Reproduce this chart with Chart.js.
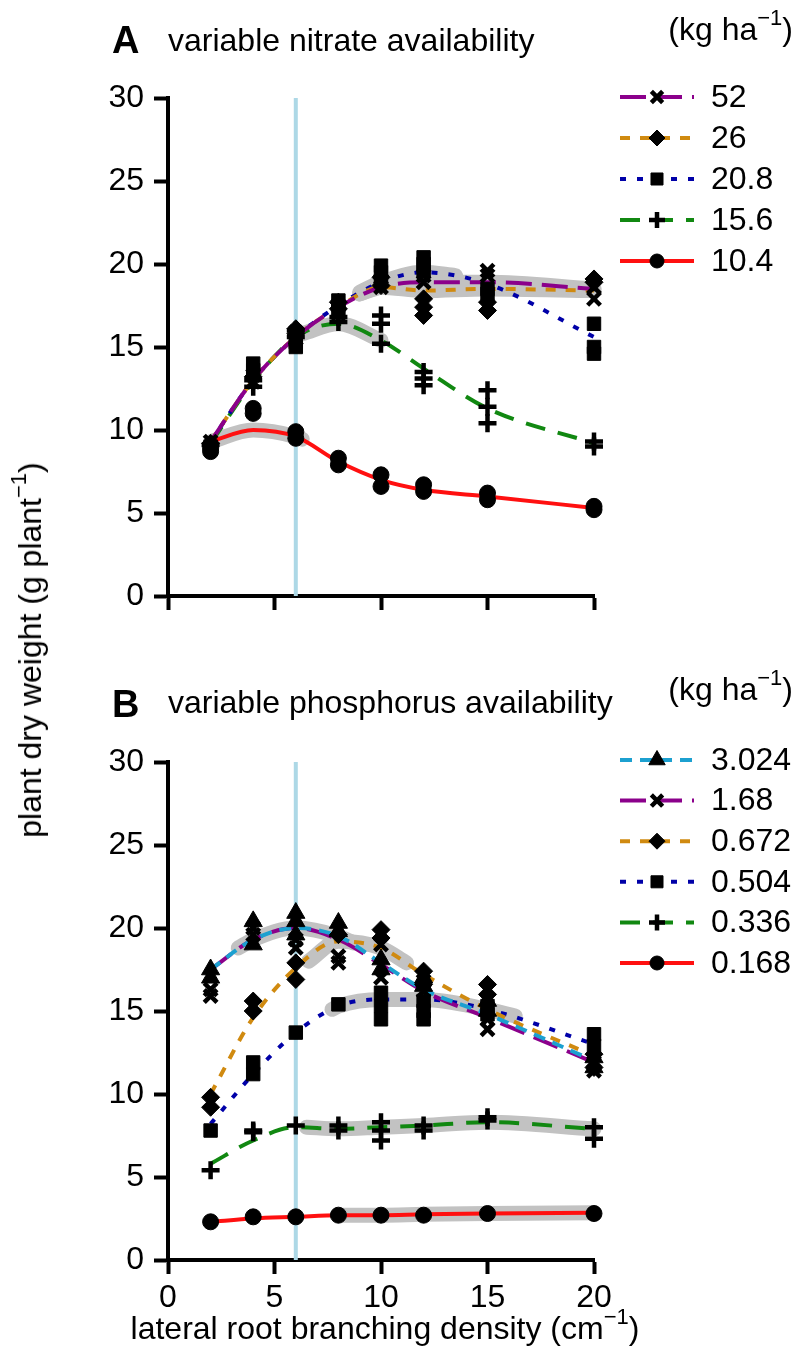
<!DOCTYPE html>
<html>
<head>
<meta charset="utf-8">
<script src="https://cdn.jsdelivr.net/npm/chart.js@4.4.0/dist/chart.umd.min.js"></script>
<style>
  body { margin: 0; background: #fff; width: 797px; height: 1349px; position: relative; overflow: hidden;
         font-family: "Liberation Sans", Arial, sans-serif; color: #000; }
  canvas { position: absolute; left: 0; }
  .t { position: absolute; font-size: 32px; line-height: 32px; white-space: nowrap; }
  .t sup { font-size: 22px; line-height: 0; position: relative; top: -2px; vertical-align: 13px; }
  .lbl { font-weight: bold; font-size: 38px; line-height: 38px; }
</style>
</head>
<body>
<canvas id="panelA" width="797" height="640" style="top:0"></canvas>
<canvas id="panelB" width="797" height="709" style="top:640px"></canvas>

<div class="t lbl" style="left:112px; top:21px">A</div>
<div class="t" style="left:168px; top:24px">variable nitrate availability</div>
<div class="t" style="right:4px; top:13px">(kg ha<sup>−1</sup>)</div>

<div class="t lbl" style="left:112px; top:685px">B</div>
<div class="t" style="left:168px; top:686px">variable phosphorus availability</div>
<div class="t" style="right:4px; top:673px">(kg ha<sup>−1</sup>)</div>

<div class="t" style="left:30px; top:650px; transform: translate(-50%,-50%) rotate(-90deg)">plant dry weight (g plant<sup>−1</sup>)</div>
<div class="t" style="left:385px; top:1312px; transform: translateX(-50%)">lateral root branching density (cm<sup>−1</sup>)</div>

<script>
// sampled branching densities (cm-1)
const xVals = [2, 4, 6, 8, 10, 12, 15, 20];
const refX = 6;   // light blue reference line

// ---- A: nitrate (kg ha-1) ----
const nitrateLabels = ['52', '26', '20.8', '15.6', '10.4'];
// fitted curves at xVals
const n52Fit  = [9.3, 13.0, 15.6, 17.4, 18.6, 18.9, 18.9, 18.5];
const n26Fit  = [9.3, 13.0, 15.6, 17.4, 18.6, 18.4, 18.5, 18.4];
const n208Fit = [9.3, 13.0, 15.6, 17.5, 18.9, 19.5, 18.8, 15.6];
const n156Fit = [9.2, 12.9, 15.6, 16.4, 15.4, 13.7, 11.3, 9.2];
const n104Fit = [9.3, 10.0, 9.6, 8.1, 7.0, 6.4, 6.0, 5.3];
// replicate simulations at each x
const n52Pts  = [[9.3], [12.9, 13.3], [15.5, 15.9], [17.0, 17.5], [19.0, 18.6], [19.3, 18.9], [19.6, 19.3], [18.6, 17.9]];
const n26Pts  = [[9.2], [13.2], [15.8, 16.1], [17.3, 17.7], [19.2, 18.7], [17.9, 17.4, 16.9], [17.7, 17.2], [19.1, 18.9]];
const n208Pts = [[9.0], [14.0, 13.6], [15.3, 15.0], [17.8, 17.2], [19.9, 19.5, 19.0], [20.4, 20.0, 19.6], [18.5, 18.2], [16.4, 15.0, 14.6]];
const n156Pts = [[9.1], [13.0, 12.6], [16.0, 15.6], [16.8, 16.5], [16.9, 16.4, 15.2], [13.5, 13.1, 12.7], [12.4, 11.4, 10.4], [9.3, 9.0]];
const n104Pts = [[8.7, 8.9], [11.0, 11.3], [9.5, 9.9], [7.9, 8.3], [6.6, 7.3], [6.3, 6.7], [5.8, 6.2], [5.2, 5.4]];
// grey optimum bands [x, y]
const n52Band  = [[9, 18.2], [10, 18.6], [12, 18.9], [15, 18.9], [20, 18.5]];
const n26Band  = [[9, 18.2], [10, 18.6], [12, 18.4], [15, 18.5], [20, 18.4]];
const n208Band = [[9, 18.3], [10, 18.9], [12, 19.5], [13.5, 19.3]];
const n156Band = [[6.3, 15.8], [8, 16.4], [10, 15.4]];
const n104Band = [[2, 9.3], [4, 10.0], [6, 9.6], [6.3, 9.45]];

// ---- B: phosphorus (kg ha-1) ----
const phosphLabels = ['3.024', '1.68', '0.672', '0.504', '0.336', '0.168'];
const p3024Fit = [17.5, 19.3, 20.0, 19.5, 17.9, 16.3, 14.8, 12.0];
const p168Fit  = [17.5, 19.3, 20.0, 19.3, 17.8, 16.2, 14.6, 11.9];
const p0672Fit = [10.0, 14.6, 17.6, 19.2, 18.8, 17.2, 15.1, 12.3];
const p0504Fit = [8.2, 11.2, 13.7, 15.3, 15.7, 15.7, 15.1, 13.0];
const p0336Fit = [5.8, 7.2, 8.0, 7.9, 8.0, 8.1, 8.3, 7.9];
const p0168Fit = [2.3, 2.5, 2.6, 2.7, 2.7, 2.75, 2.8, 2.85];
const p3024Pts = [[17.5, 17.0], [20.4, 19.0], [20.9, 20.4, 19.6], [20.3, 19.8], [18.1, 17.5], [17.0, 16.5], [15.6, 15.0], [12.2, 11.6]];
const p168Pts  = [[16.3, 15.9], [20.0, 19.6], [19.3, 18.8], [18.3, 17.9], [19.0, 17.0], [16.8, 16.2], [14.5, 13.9], [11.9, 11.4]];
const p0672Pts = [[9.8, 9.2], [15.6, 15.0], [17.9, 16.9], [19.6], [19.9, 19.4], [17.4, 16.6], [16.6, 16.0], [12.4, 11.6]];
const p0504Pts = [[7.8], [11.9, 11.2], [13.7], [15.4], [16.1, 15.3, 14.5], [15.6, 15.0, 14.5], [15.3, 14.8], [13.6, 12.9]];
const p0336Pts = [[5.4], [7.8, 7.7], [8.1], [8.1, 7.8], [8.3, 7.8, 7.2], [8.1, 7.8], [8.6, 8.4], [8.0, 7.3]];
const p0168Pts = [[2.3], [2.6], [2.6], [2.7], [2.7], [2.7], [2.8], [2.8]];
const p3024Band = [[3.3, 18.8], [4, 19.3], [6, 20.0], [8, 19.5], [8.7, 19.1]];
const p0672Band = [[6.6, 18.0], [8, 19.2], [10, 18.8], [11.2, 17.9]];
const p0504Band = [[7.7, 15.1], [8, 15.3], [10, 15.7], [12, 15.7], [15, 15.1], [16.3, 14.7]];
const p0336Band = [[6.5, 8.0], [8, 7.9], [10, 8.0], [12, 8.1], [15, 8.3], [20, 7.9]];
const p0168Band = [[8.2, 2.7], [10, 2.7], [12, 2.75], [15, 2.8], [20, 2.85]];

const FONT = '"Liberation Sans", Arial, sans-serif';

const markers = {
  x:        { pointStyle: 'crossRot', radius: 9,   bw: 4.5 },
  diamond:  { pointStyle: 'rectRot',  radius: 9,   bw: 1 },
  square:   { pointStyle: 'rect',     radius: 9.5, bw: 1 },
  plus:     { pointStyle: 'cross',    radius: 9,   bw: 4.5 },
  circle:   { pointStyle: 'circle',   radius: 8,   bw: 1 },
  triangle: { pointStyle: 'triangle', radius: 10.5, bw: 1 }
};

const seriesA = [
  { label: nitrateLabels[0], color: '#8B008B', dash: [26, 10], marker: 'x',       fit: n52Fit,  pts: n52Pts,  band: n52Band },
  { label: nitrateLabels[1], color: '#D08A10', dash: [10, 10], marker: 'diamond', fit: n26Fit,  pts: n26Pts,  band: n26Band },
  { label: nitrateLabels[2], color: '#0000A8', dash: [6, 11],  marker: 'square',  fit: n208Fit, pts: n208Pts, band: n208Band },
  { label: nitrateLabels[3], color: '#118811', dash: [20, 13], marker: 'plus',    fit: n156Fit, pts: n156Pts, band: n156Band },
  { label: nitrateLabels[4], color: '#FF1010', dash: [],       marker: 'circle',  fit: n104Fit, pts: n104Pts, band: n104Band }
];
const seriesB = [
  { label: phosphLabels[0], color: '#1CA0D0', dash: [12, 8],  marker: 'triangle', fit: p3024Fit, pts: p3024Pts, band: p3024Band },
  { label: phosphLabels[1], color: '#8B008B', dash: [26, 10], marker: 'x',        fit: p168Fit,  pts: p168Pts,  band: null },
  { label: phosphLabels[2], color: '#D08A10', dash: [10, 10], marker: 'diamond',  fit: p0672Fit, pts: p0672Pts, band: p0672Band },
  { label: phosphLabels[3], color: '#0000A8', dash: [6, 11],  marker: 'square',   fit: p0504Fit, pts: p0504Pts, band: p0504Band },
  { label: phosphLabels[4], color: '#118811', dash: [20, 13], marker: 'plus',     fit: p0336Fit, pts: p0336Pts, band: p0336Band },
  { label: phosphLabels[5], color: '#FF1010', dash: [],       marker: 'circle',   fit: p0168Fit, pts: p0168Pts, band: p0168Band }
];

function toPts(vals) {
  const out = [];
  vals.forEach((arr, i) => arr.forEach(v => out.push({ x: xVals[i], y: v })));
  return out;
}
function toFit(vals) { return vals.map((v, i) => ({ x: xVals[i], y: v })); }
function toBand(pairs) { return pairs.map(p => ({ x: p[0], y: p[1] })); }

// R-style legend: dashed segment with marker in the middle, label to the right
const rLegend = {
  id: 'rLegend',
  afterDraw(chart, args, opts) {
    const ctx = chart.ctx;
    opts.items.forEach((s, i) => {
      const y = opts.top + i * opts.step;
      ctx.save();
      ctx.strokeStyle = s.color;
      ctx.lineWidth = 4;
      ctx.setLineDash(s.dash);
      ctx.beginPath();
      ctx.moveTo(opts.x0, y);
      ctx.lineTo(opts.x1, y);
      ctx.stroke();
      ctx.setLineDash([]);
      const m = markers[s.marker];
      ctx.fillStyle = '#000';
      ctx.strokeStyle = '#000';
      ctx.lineWidth = m.bw;
      Chart.helpers.drawPoint(ctx, { pointStyle: m.pointStyle, radius: m.radius - 1, borderWidth: m.bw, rotation: 0 }, (opts.x0 + opts.x1) / 2, y);
      ctx.font = '32px ' + FONT;
      ctx.textBaseline = 'middle';
      ctx.textAlign = 'left';
      ctx.fillText(s.label, opts.tx, y + 1);
      ctx.restore();
    });
  }
};

function makePanel(id, series, opt) {
  const datasets = [];
  datasets.push({
    data: [{ x: refX, y: 0 }, { x: refX, y: 30 }],
    showLine: true, borderColor: '#ADD8E6', borderWidth: 4, pointRadius: 0, order: 5, clip: false
  });
  series.forEach(s => {
    if (s.band) {
      datasets.push({
        data: toBand(s.band), showLine: true, borderColor: '#c2c2c2', borderWidth: 15,
        borderCapStyle: 'round', borderJoinStyle: 'round', pointRadius: 0,
        cubicInterpolationMode: 'monotone', order: 4, clip: false
      });
    }
  });
  series.forEach(s => {
    datasets.push({
      label: s.label, data: toFit(s.fit), showLine: true, borderColor: s.color, borderWidth: 4,
      borderDash: s.dash, pointRadius: 0, cubicInterpolationMode: 'monotone', order: 3, clip: false
    });
  });
  series.forEach(s => {
    const m = markers[s.marker];
    datasets.push({
      data: toPts(s.pts), showLine: false, pointStyle: m.pointStyle, pointRadius: m.radius,
      backgroundColor: '#000', borderColor: '#000', borderWidth: m.bw, order: 1, clip: false
    });
  });

  const gridOpts = { drawOnChartArea: false, drawTicks: true, tickLength: 14, tickColor: '#000', tickWidth: 4 };
  const borderOpts = { display: true, color: '#000', width: 4 };

  return new Chart(document.getElementById(id), {
    type: 'scatter',
    data: { datasets },
    options: {
      responsive: false,
      animation: false,
      layout: { padding: { top: opt.top, right: 203, left: 0, bottom: 0 } },
      plugins: {
        legend: { display: false },
        tooltip: { enabled: false },
        rLegend: opt.legend
      },
      scales: {
        x: {
          type: 'linear', min: 0, max: 20,
          ticks: { stepSize: 5, display: opt.xLabels, color: '#000', font: { family: FONT, size: 32 }, padding: 5, maxRotation: 0 },
          grid: gridOpts, border: borderOpts,
          afterFit(scale) { scale.height = opt.xHeight; }
        },
        y: {
          type: 'linear', min: 0, max: 30,
          ticks: { stepSize: 5, color: '#000', font: { family: FONT, size: 32 }, padding: 10 },
          grid: gridOpts, border: borderOpts,
          afterFit(scale) { scale.width = 168; }
        }
      }
    },
    plugins: [rLegend]
  });
}

makePanel('panelA', seriesA, {
  top: 98, xHeight: 44, xLabels: false,
  legend: { items: seriesA, x0: 620, x1: 694, tx: 711, top: 97, step: 41 }
});
makePanel('panelB', seriesB, {
  top: 122, xHeight: 89, xLabels: true,
  legend: { items: seriesB, x0: 620, x1: 694, tx: 711, top: 120, step: 40.6 }
});
</script>
</body>
</html>
